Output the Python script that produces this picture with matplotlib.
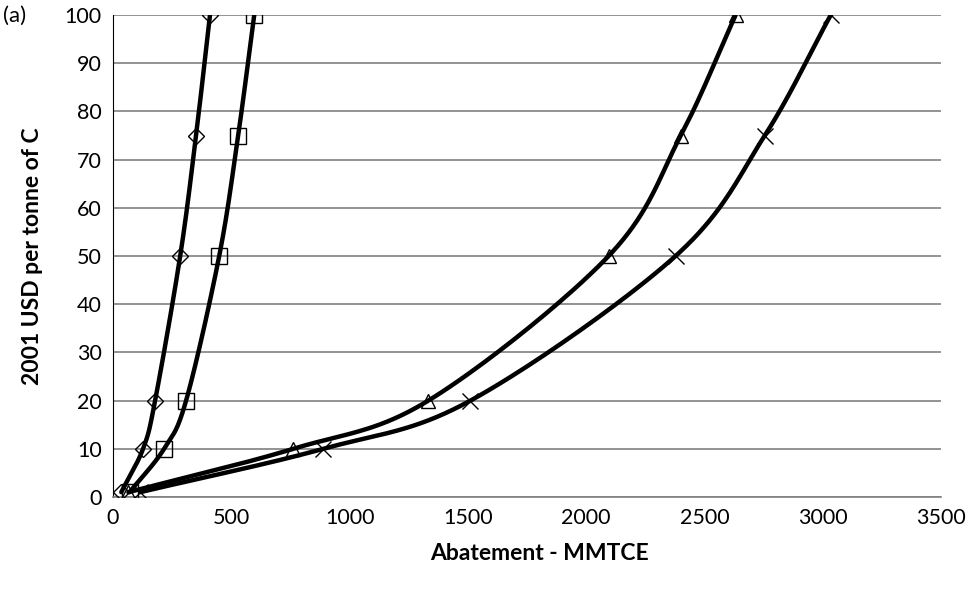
import numpy as np
import matplotlib
matplotlib.use("Agg")
import matplotlib.pyplot as plt

plt.rcParams['font.family'] = ['Lato', 'DejaVu Sans']

cost = [1, 10, 20, 50, 75, 100]
diamond_x = [35, 127, 178, 284, 351, 410]
square_x = [70, 216, 309, 449, 529, 597]
triangle_x = [65, 762, 1333, 2095, 2400, 2632]
cross_x = [115, 889, 1511, 2378, 2755, 3034]

xticks = [0, 500, 1000, 1500, 2000, 2500, 3000, 3500]
yticks = [0, 10, 20, 30, 40, 50, 60, 70, 80, 90, 100]


def smooth(xs, ys, n=40, tension=0.5):
    xs = np.asarray(xs, float); ys = np.asarray(ys, float)
    P = np.column_stack([xs, ys])
    P = np.vstack([2 * P[0] - P[1], P, 2 * P[-1] - P[-2]])
    out = []
    for i in range(1, len(P) - 2):
        p0, p1, p2, p3 = P[i - 1], P[i], P[i + 1], P[i + 2]
        m1 = tension * (p2 - p0)
        m2 = tension * (p3 - p1)
        t = np.linspace(0, 1, n)[:, None]
        h00 = 2 * t**3 - 3 * t**2 + 1
        h10 = t**3 - 2 * t**2 + t
        h01 = -2 * t**3 + 3 * t**2
        h11 = t**3 - t**2
        out.append(h00 * p1 + h10 * m1 + h01 * p2 + h11 * m2)
    arr = np.vstack(out)
    return arr[:, 0], arr[:, 1]


fig = plt.figure(figsize=(9.8, 5.93), dpi=100)
ax = fig.add_axes([113 / 980, (593 - 497) / 593, (941 - 113) / 980, (497 - 15) / 593])

series = [(diamond_x, 'D', 8.5), (square_x, 's', 11), (triangle_x, '^', 10), (cross_x, 'x', 11)]
for xs, mk, ms in series:
    sx, sy = smooth(xs, cost)
    ax.plot(sx, sy, color='black', lw=3.2, solid_capstyle='round', zorder=3)
    ax.plot(xs, cost, linestyle='none', marker=mk, markersize=ms,
            markerfacecolor='none', markeredgecolor='black', markeredgewidth=1.0, zorder=4)

ax.set_xlim(0, 3500)
ax.set_ylim(0, 100)
ax.set_xticks(xticks)
ax.set_yticks(yticks)
ax.yaxis.grid(True, color='#808080', lw=1.2)
ax.set_axisbelow(True)
ax.tick_params(axis='both', length=0, labelsize=15.5, pad=8)
for s in ['top', 'right']:
    ax.spines[s].set_visible(False)
ax.spines['left'].set_color('black')
ax.spines['bottom'].set_color('#808080')
ax.spines['bottom'].set_linewidth(1.2)

ax.set_xlabel('Abatement - MMTCE', fontsize=16.5, fontweight='bold')
ax.xaxis.set_label_coords(0.515, -0.095)
ax.set_ylabel('2001 USD per tonne of C', fontsize=16.5, fontweight='bold', labelpad=16)
fig.text(3 / 980, 1 - 16 / 593, '(a)', fontsize=16, va='center', ha='left')

fig.savefig('out.png', dpi=100)
